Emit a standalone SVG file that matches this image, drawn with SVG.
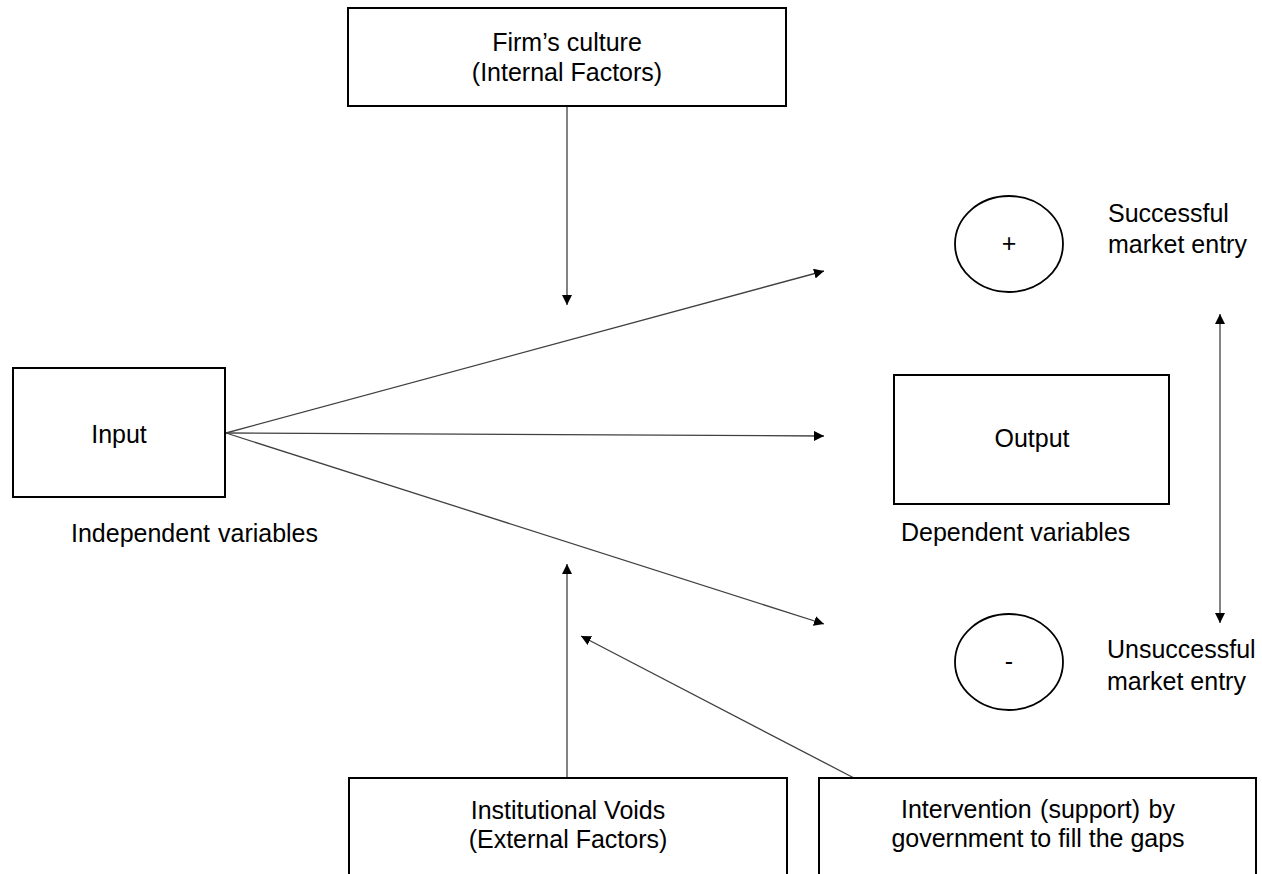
<svg xmlns="http://www.w3.org/2000/svg" width="1262" height="874" viewBox="0 0 1262 874">
  <style>
    .box { fill: #ffffff; stroke: #000000; stroke-width: 2; }
    .oval { fill: #ffffff; stroke: #000000; stroke-width: 1.8; }
    .lbl { font-family: "Liberation Sans", Arial, sans-serif; font-size: 25px; fill: #000000; }
    .mid { text-anchor: middle; }
    .conn { fill: none; stroke: #404040; stroke-width: 1.3; }
  </style>
  <defs>
    <marker id="head" viewBox="0 0 10 10" refX="10" refY="5" markerWidth="10" markerHeight="10" markerUnits="userSpaceOnUse" orient="auto">
      <path d="M0,0 L10,5 L0,10 Z" fill="#000000"/>
    </marker>
    <marker id="tail" viewBox="0 0 10 10" refX="0" refY="5" markerWidth="10" markerHeight="10" markerUnits="userSpaceOnUse" orient="auto">
      <path d="M10,0 L0,5 L10,10 Z" fill="#000000"/>
    </marker>
  </defs>
  <rect width="1262" height="874" fill="#ffffff"/>

  <g id="connectors">
    <line class="conn" x1="567" y1="106" x2="567" y2="305" marker-end="url(#head)"/>
    <line class="conn" x1="226" y1="433" x2="824" y2="271" marker-end="url(#head)"/>
    <line class="conn" x1="226" y1="433" x2="824" y2="436" marker-end="url(#head)"/>
    <line class="conn" x1="226" y1="433" x2="824" y2="624" marker-end="url(#head)"/>
    <line class="conn" x1="567" y1="778" x2="567" y2="564" marker-end="url(#head)"/>
    <line class="conn" x1="854" y1="778" x2="581" y2="636" marker-end="url(#head)"/>
    <line class="conn" x1="1220" y1="314" x2="1220" y2="623" marker-start="url(#tail)" marker-end="url(#head)"/>
  </g>

  <g id="firm-culture">
    <rect class="box" x="348" y="8" width="438" height="98"/>
    <text class="lbl mid" x="567" y="51">Firm’s culture</text>
    <text class="lbl mid" x="567" y="81">(Internal Factors)</text>
  </g>

  <g id="input">
    <rect class="box" x="13" y="368" width="212" height="129"/>
    <text class="lbl mid" x="119" y="443" font-size="24">Input</text>
    <text class="lbl" x="71" y="542" word-spacing="1">Independent variables</text>
  </g>

  <g id="output">
    <rect class="box" x="894" y="375" width="275" height="129"/>
    <text class="lbl mid" x="1032" y="447">Output</text>
    <text class="lbl" x="901" y="541">Dependent variables</text>
  </g>

  <g id="success">
    <ellipse class="oval" cx="1009" cy="244" rx="54" ry="48"/>
    <text class="lbl mid" x="1009" y="252">+</text>
    <text class="lbl" x="1108" y="222">Successful</text>
    <text class="lbl" x="1108" y="253">market entry</text>
  </g>

  <g id="failure">
    <ellipse class="oval" cx="1009" cy="662" rx="54" ry="48"/>
    <text class="lbl mid" x="1009" y="670">-</text>
    <text class="lbl" x="1107" y="658">Unsuccessful</text>
    <text class="lbl" x="1107" y="690">market entry</text>
  </g>

  <g id="institutional-voids">
    <rect class="box" x="349" y="778" width="438" height="110"/>
    <text class="lbl mid" x="568" y="819">Institutional Voids</text>
    <text class="lbl mid" x="568" y="848">(External Factors)</text>
  </g>

  <g id="government-intervention">
    <rect class="box" x="819" y="778" width="437" height="110"/>
    <text class="lbl mid" x="1038" y="818" word-spacing="1.5">Intervention (support) by</text>
    <text class="lbl mid" x="1038" y="847">government to fill the gaps</text>
  </g>
</svg>
